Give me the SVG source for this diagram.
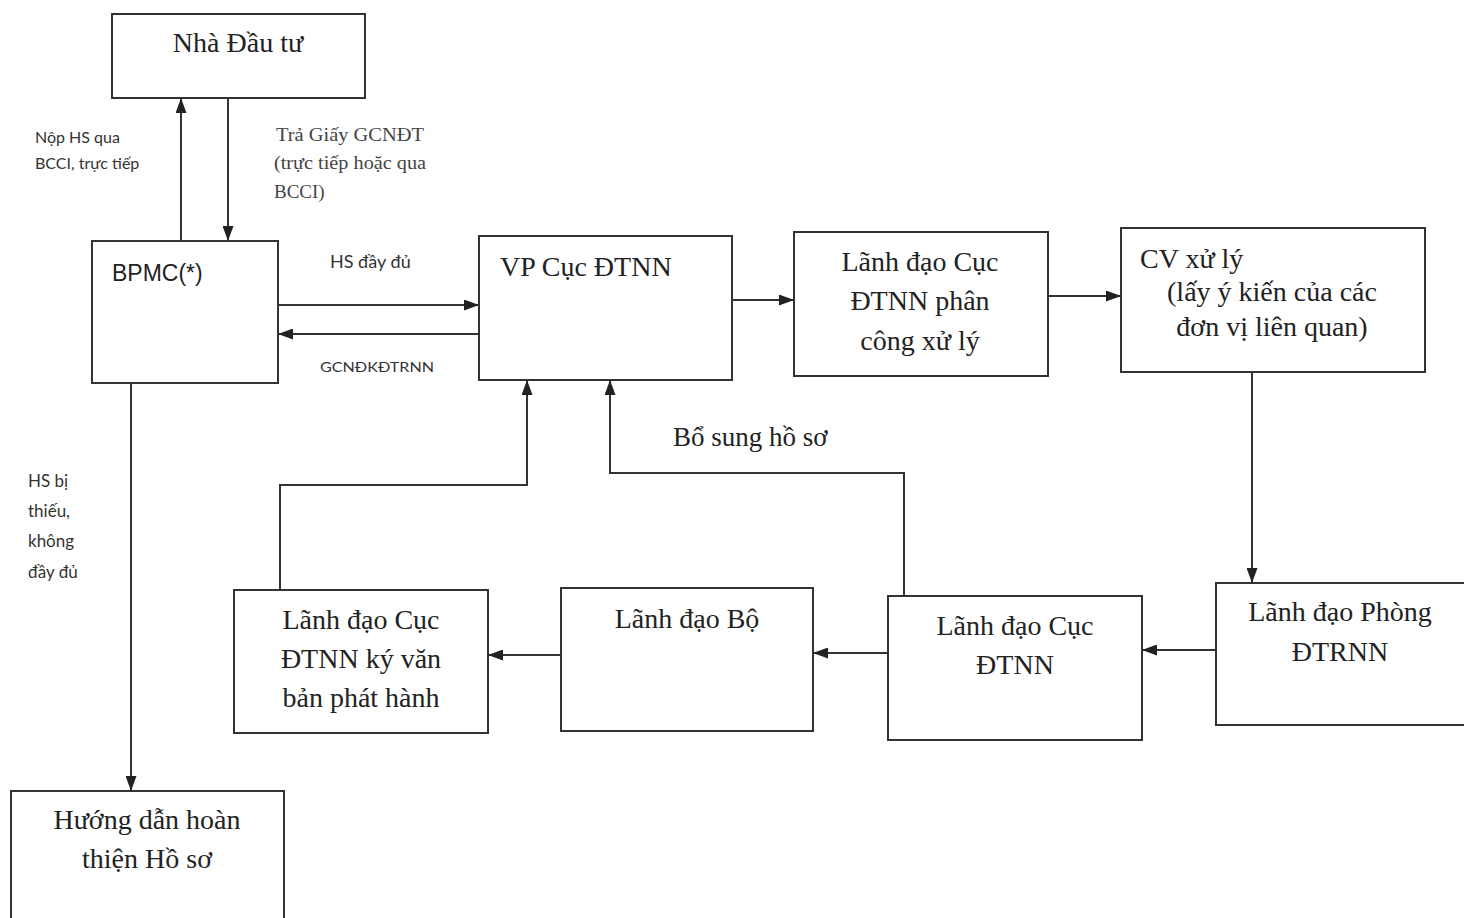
<svg xmlns="http://www.w3.org/2000/svg" width="1464" height="918" viewBox="0 0 1464 918">
<defs>
<marker id="ah" markerWidth="15" markerHeight="11" refX="14" refY="5.5" orient="auto" markerUnits="userSpaceOnUse" viewBox="0 0 15 11">
<path d="M0,0 L15,5.5 L0,11 z" fill="#222"/>
</marker>
<style>
.box{fill:#fff;stroke:#333;stroke-width:2}
.t{font-family:"Liberation Serif","Times New Roman",serif;font-size:28px;fill:#222}
.tc{font-family:"Liberation Serif","Times New Roman",serif;font-size:28px;fill:#222;text-anchor:middle}
.s{font-family:Lato,"Liberation Sans",sans-serif;font-size:16px;fill:#333}
.sv{font-family:"Liberation Serif","Times New Roman",serif;font-size:19px;fill:#444}
.c{fill:none;stroke:#333;stroke-width:2}
</style>
</defs>
<rect width="1464" height="918" fill="#fff"/>
<g id="n_nhadautu"><rect class="box" x="112" y="14" width="253" height="84"/><text class="tc" x="238" y="52">Nhà Đầu tư</text></g>
<g id="n_bpmc"><rect class="box" x="92" y="241" width="186" height="142"/><text x="112" y="281" style="font-family:'Liberation Sans',Arial,sans-serif;font-size:23px;fill:#222">BPMC(*)</text></g>
<g id="n_vp"><rect class="box" x="479" y="236" width="253" height="144"/><text class="t" x="500" y="276">VP Cục ĐTNN</text></g>
<g id="n_ldphancong"><rect class="box" x="794" y="232" width="254" height="144"/><text class="tc" x="920" y="271">Lãnh đạo Cục</text><text class="tc" x="920" y="310">ĐTNN phân</text><text class="tc" x="920" y="350">công xử lý</text></g>
<g id="n_cv"><rect class="box" x="1121" y="228" width="304" height="144"/><text class="t" x="1140" y="268">CV xử lý</text><text class="tc" x="1272" y="301">(lấy ý kiến của các</text><text class="tc" x="1272" y="336">đơn vị liên quan)</text></g>
<g id="n_ldphong"><rect class="box" x="1216" y="583" width="252" height="142"/><text class="tc" x="1340" y="621">Lãnh đạo Phòng</text><text class="tc" x="1340" y="661">ĐTRNN</text></g>
<g id="n_ldcuc"><rect class="box" x="888" y="596" width="254" height="144"/><text class="tc" x="1015" y="635">Lãnh đạo Cục</text><text class="tc" x="1015" y="674">ĐTNN</text></g>
<g id="n_ldbo"><rect class="box" x="561" y="588" width="252" height="143"/><text class="tc" x="687" y="628">Lãnh đạo Bộ</text></g>
<g id="n_ldky"><rect class="box" x="234" y="590" width="254" height="143"/><text class="tc" x="361" y="629">Lãnh đạo Cục</text><text class="tc" x="361" y="668">ĐTNN ký văn</text><text class="tc" x="361" y="707">bản phát hành</text></g>
<g id="n_huongdan"><rect class="box" x="11" y="791" width="273" height="140"/><text class="tc" x="147" y="829">Hướng dẫn hoàn</text><text class="tc" x="147" y="868">thiện Hồ sơ</text></g>
<g id="connectors">
<line class="c" x1="181" y1="241" x2="181" y2="99" marker-end="url(#ah)"/>
<line class="c" x1="228" y1="98" x2="228" y2="240" marker-end="url(#ah)"/>
<line class="c" x1="278" y1="305" x2="478" y2="305" marker-end="url(#ah)"/>
<line class="c" x1="479" y1="334" x2="279" y2="334" marker-end="url(#ah)"/>
<line class="c" x1="732" y1="300" x2="793" y2="300" marker-end="url(#ah)"/>
<line class="c" x1="1048" y1="296" x2="1120" y2="296" marker-end="url(#ah)"/>
<line class="c" x1="1252" y1="372" x2="1252" y2="582" marker-end="url(#ah)"/>
<line class="c" x1="1216" y1="650" x2="1143" y2="650" marker-end="url(#ah)"/>
<line class="c" x1="888" y1="653" x2="814" y2="653" marker-end="url(#ah)"/>
<line class="c" x1="561" y1="655" x2="489" y2="655" marker-end="url(#ah)"/>
<polyline class="c" points="280,590 280,485 527,485 527,381" marker-end="url(#ah)"/>
<polyline class="c" points="904,596 904,473 610,473 610,381" marker-end="url(#ah)"/>
<line class="c" x1="131" y1="383" x2="131" y2="790" marker-end="url(#ah)"/>
</g>
<g id="labels">
<text class="s" x="35" y="143">Nộp HS qua</text>
<text class="s" x="35" y="169">BCCI, trực tiếp</text>
<text class="sv" x="276" y="141" textLength="148" lengthAdjust="spacingAndGlyphs">Trả Giấy GCNĐT</text>
<text class="sv" x="274" y="169" textLength="152" lengthAdjust="spacingAndGlyphs">(trực tiếp hoặc qua</text>
<text class="sv" x="274" y="198">BCCI)</text>
<text x="330" y="268" style="font-family:Lato,'Liberation Sans',sans-serif;font-size:18px;fill:#333">HS đầy đủ</text>
<text x="320" y="372" textLength="114" lengthAdjust="spacingAndGlyphs" style="font-family:Lato,'Liberation Sans',sans-serif;font-size:14px;fill:#333">GCNĐKĐTRNN</text>
<text x="673" y="446" style="font-family:'Liberation Serif','Times New Roman',serif;font-size:27px;fill:#222">Bổ sung hồ sơ</text>
<text class="s" x="28" y="487" style="font-size:17px">HS  bị</text>
<text class="s" x="28" y="517" style="font-size:17px">thiếu,</text>
<text class="s" x="28" y="547" style="font-size:17px">không</text>
<text class="s" x="28" y="578" style="font-size:17px">đầy đủ</text>
</g>
</svg>
